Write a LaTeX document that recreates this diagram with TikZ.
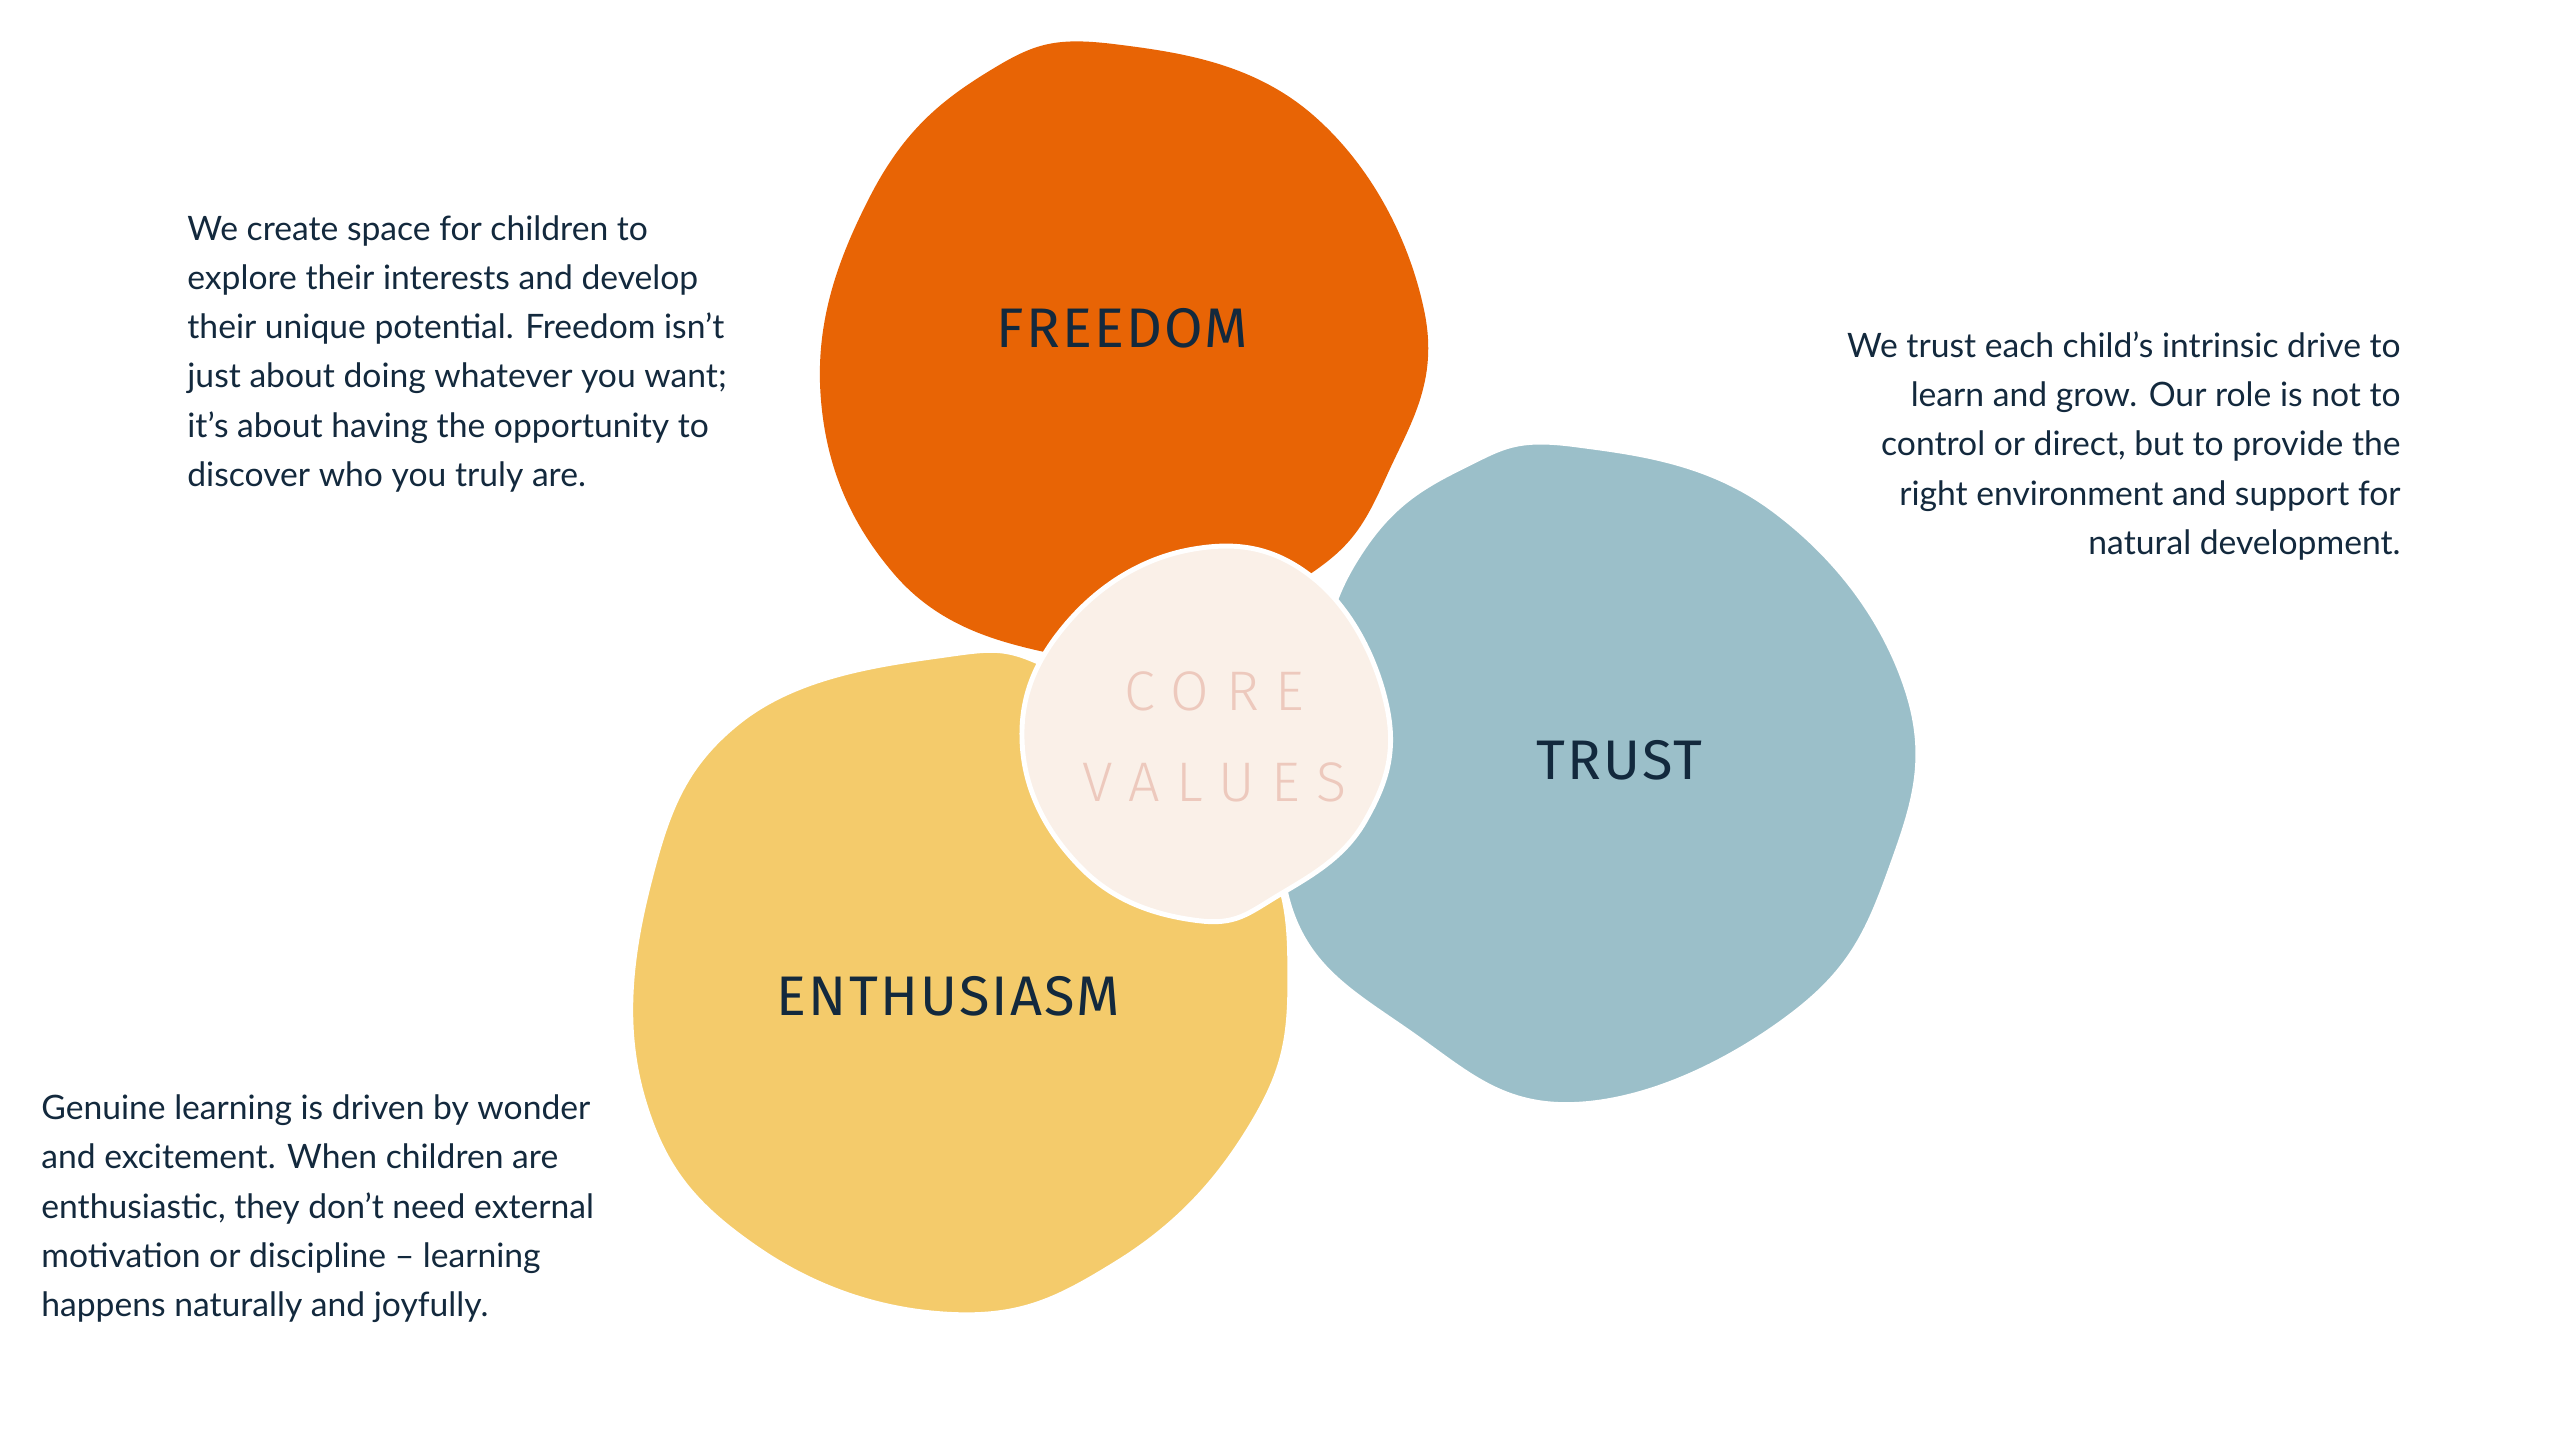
\documentclass[tikz,border=0pt]{standalone}
\usepackage{fontspec}
\setmainfont{Lato}
\newfontfamily\labelfont[LetterSpace=4]{Fira Sans}
\newfontfamily\corefont[LetterSpace=30]{Fira Sans Light}
\definecolor{cfree}{HTML}{E86405}
\definecolor{ctrust}{HTML}{9BBFC9}
\definecolor{centh}{HTML}{F4CB6B}
\definecolor{ccore}{HTML}{FAF0E8}
\definecolor{ccoretxt}{HTML}{EDC9BD}
\definecolor{ink}{HTML}{13293D}
\begin{document}
\begin{tikzpicture}[x=1pt,y=-1pt,
  blob/.style={draw=white,line width=3pt},
  lbl/.style={text=ink,font=\labelfont\fontsize{34}{36}\selectfont},
  body/.style={text=ink,font=\fontsize{20.5}{30}\selectfont,inner sep=0pt}]
\useasboundingbox (0,0) rectangle (1560,877.5);
\fill[white] (0,0) rectangle (1560,877.5);
\fill[cfree] plot[smooth cycle,tension=0.7] coordinates {(680,27) (800,70) (868,190) (845,290) (795,352) (700,385) (635,397) (545,350) (500,240) (530,120) (600,45)};
\draw[blob,fill=centh] plot[smooth cycle,tension=0.7] coordinates {(570,400) (650,412) (760,500) (786,600) (760,690) (680,770) (580,801) (460,760) (392,670) (395,540) (450,440)};
\draw[blob,fill=ctrust] plot[smooth cycle,tension=0.7] coordinates {(960,271) (1080,310) (1162,420) (1152,530) (1090,620) (960,673) (860,630) (785,550) (800,420) (830,335) (890,285)};
\draw[blob,fill=ccore] plot[smooth cycle,tension=0.7] coordinates {(725,335) (800,352) (845,430) (832,500) (780,545) (730,561) (660,530) (623,455) (650,380)};
\node[lbl] (fr) at (684,200) {FREEDOM};
\node[lbl] (tr) at (987,463) {TRUST};
\node[lbl] (en) at (578,607) {ENTHUSIASM};
\node[text=ccoretxt,font=\corefont\fontsize{34}{55}\selectfont,align=center] (cv) at (740,449) {CORE\\VALUES};
\node[body,anchor=north west,align=left] (t1) at (114,131) {We create space for children to\\explore their interests and develop\\their unique potential. Freedom isn't\\just about doing whatever you want;\\it's about having the opportunity to\\discover who you truly are.};
\node[body,anchor=north east,align=right] (t2) at (1463,202) {We trust each child's intrinsic drive to\\learn and grow. Our role is not to\\control or direct, but to provide the\\right environment and support for\\natural development.};
\node[body,anchor=north west,align=left] (t3) at (25,667) {Genuine learning is driven by wonder\\and excitement. When children are\\enthusiastic, they don't need external\\motivation or discipline -- learning\\happens naturally and joyfully.};
\end{tikzpicture}
\end{document}
